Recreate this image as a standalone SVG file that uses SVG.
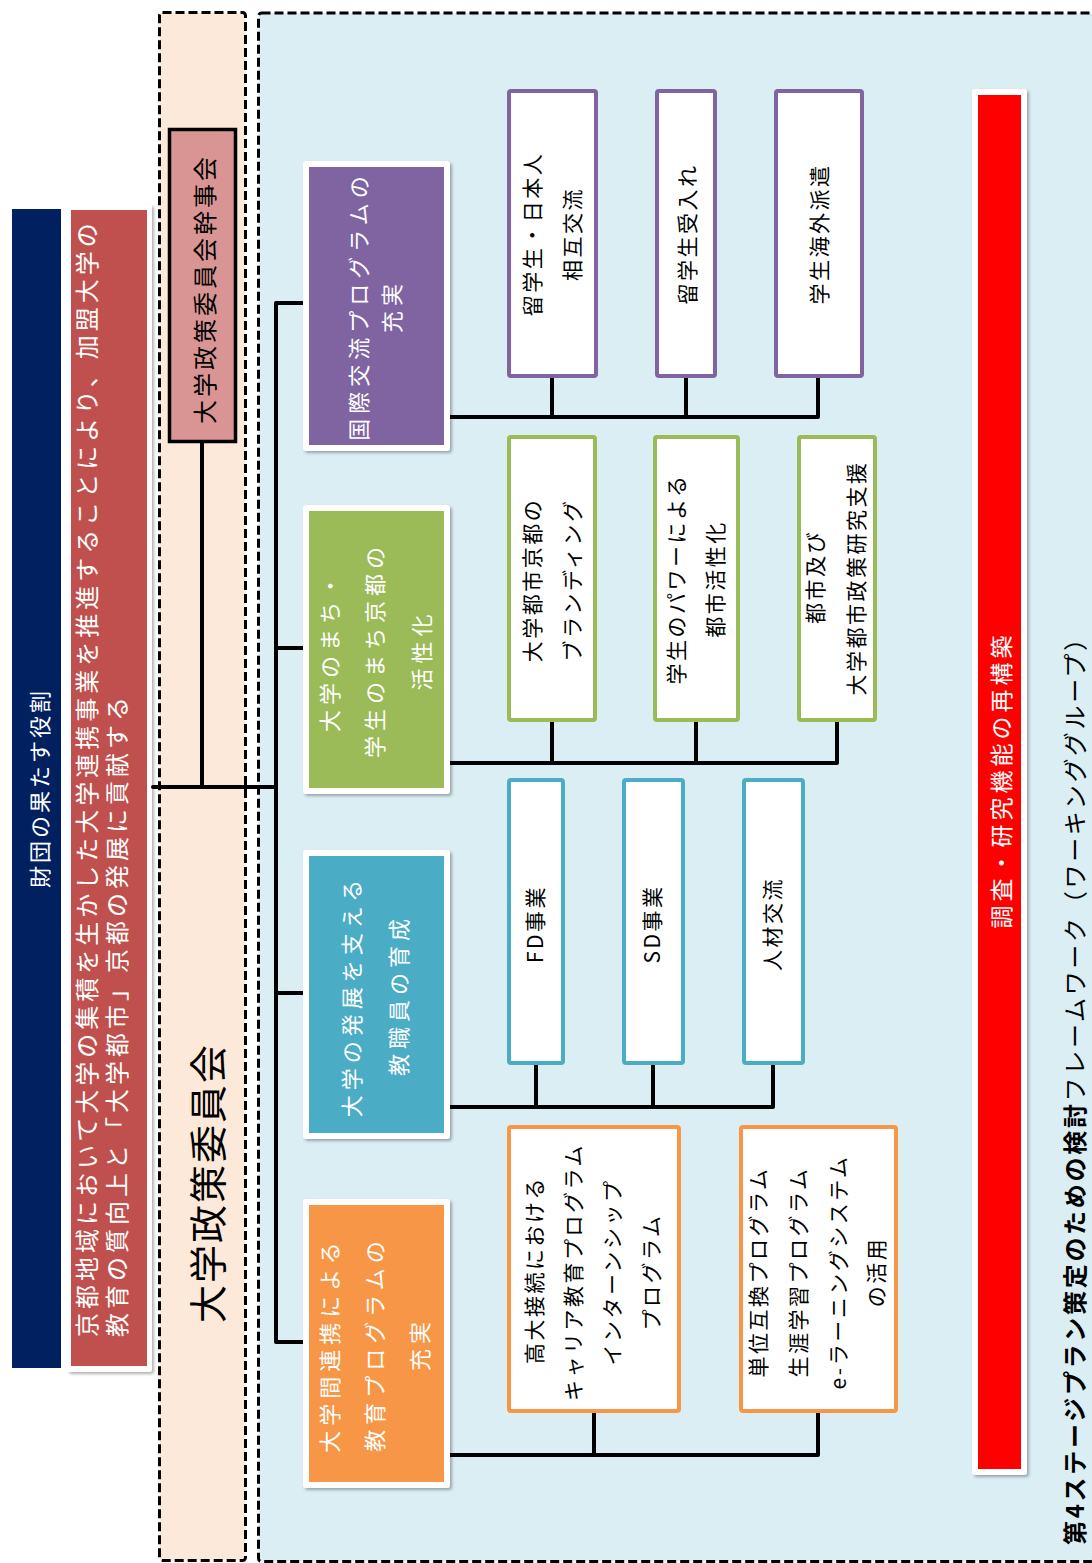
<svg xmlns="http://www.w3.org/2000/svg" width="1092" height="1563" viewBox="0 0 1092 1563">
<defs>
<filter id="sh" x="-10%" y="-10%" width="130%" height="130%">
<feDropShadow dx="2" dy="2" stdDeviation="1.5" flood-color="#000" flood-opacity="0.3"/>
</filter>
</defs>
<style>
text{font-family:"Noto Sans CJK JP","Noto Sans",sans-serif;dominant-baseline:central;text-anchor:middle}
.wt{fill:#fff}
.cat{font-size:22px;letter-spacing:5px;fill:#fff}
.sub{font-size:21px;letter-spacing:2.5px;fill:#000}
.panel{stroke:#000;stroke-width:3;stroke-dasharray:9 4}
.sb{fill:#fff;stroke-width:4}
.conn{fill:none;stroke:#000;stroke-width:4;stroke-linejoin:round}
.wb{fill:#fff;filter:url(#sh)}
</style>
<rect width="1092" height="1563" fill="#fff"/>

<g id="panel-committee">
<rect class="panel" x="159.5" y="12.5" width="86" height="1548" rx="3" fill="#FDE9D9"/>
<text transform="translate(205,1183) rotate(-90)" style="font-size:38px;letter-spacing:2px;fill:#000">大学政策委員会</text>
</g>
<g id="panel-wg">
<rect class="panel" x="258.5" y="13" width="835" height="1548.5" rx="3" fill="#DAEEF3"/>
</g>

<g id="role">
<rect x="12" y="209" width="49" height="1159" fill="#002060"/>
<text class="wt" transform="translate(38,788) rotate(-90)" style="font-size:22px;letter-spacing:3px">財団の果たす役割</text>
</g>

<g id="mission">
<rect class="wb" x="67" y="204" width="85" height="1168" rx="3"/>
<rect x="71" y="210" width="76" height="1156" fill="#C0504D"/>
<text class="wt" transform="translate(85,1337) rotate(-90)" style="font-size:24px;letter-spacing:4px;text-anchor:start">京都地域において大学の集積を生かした大学連携事業を推進することにより、加盟大学の</text>
<text class="wt" transform="translate(115,1337) rotate(-90)" style="font-size:24px;letter-spacing:4px;text-anchor:start">教育の質向上と「大学都市」京都の発展に貢献する</text>
</g>

<g id="kanji">
<rect x="169.5" y="129.5" width="66" height="312" fill="#D99594" stroke="#000" stroke-width="3.5"/>
<text transform="translate(203,289) rotate(-90)" style="font-size:24px;letter-spacing:3px;fill:#000">大学政策委員会幹事会</text>
</g>

<g id="connectors">
<path class="conn" d="M202,443 V787"/>
<path class="conn" d="M153,787 H276" stroke-linecap="round"/>
<path class="conn" d="M303,303 H276 V1342 H303"/>
<path class="conn" d="M276,648 H303 M276,993 H303"/>
<path class="conn" d="M450,417 H818 V378 M552,378 V417 M686,378 V417"/>
<path class="conn" d="M450,763 H837 V722 M552,722 V763 M696,722 V763"/>
<path class="conn" d="M450,1107 H773 V1065 M536,1065 V1107 M653,1065 V1107"/>
<path class="conn" d="M450,1455 H818 V1413 M594,1413 V1455"/>
</g>

<g id="cat-intl">
<rect class="wb" x="303" y="161" width="147" height="290" rx="3"/>
<rect x="309" y="167" width="135" height="278" fill="#8064A2"/>
<text class="cat" transform="translate(357,306) rotate(-90)">国際交流プログラムの</text>
<text class="cat" transform="translate(390,306) rotate(-90)">充実</text>
</g>
<g id="cat-town">
<rect class="wb" x="303" y="505" width="147" height="289" rx="3"/>
<rect x="309" y="511" width="135" height="277" fill="#9BBB59"/>
<text class="cat" transform="translate(328,651) rotate(-90)">大学のまち・</text>
<text class="cat" transform="translate(373,650) rotate(-90)">学生のまち京都の</text>
<text class="cat" transform="translate(420,650) rotate(-90)">活性化</text>
</g>
<g id="cat-staff">
<rect class="wb" x="303" y="850" width="147" height="289" rx="3"/>
<rect x="309" y="856" width="135" height="277" fill="#4BACC6"/>
<text class="cat" transform="translate(350,996) rotate(-90)">大学の発展を支える</text>
<text class="cat" transform="translate(397,995) rotate(-90)">教職員の育成</text>
</g>
<g id="cat-edu">
<rect class="wb" x="303" y="1199" width="147" height="289" rx="3"/>
<rect x="309" y="1205" width="135" height="277" fill="#F79646"/>
<text class="cat" transform="translate(328,1345) rotate(-90)">大学間連携による</text>
<text class="cat" transform="translate(373,1344) rotate(-90)">教育プログラムの</text>
<text class="cat" transform="translate(418,1344) rotate(-90)">充実</text>
</g>

<g id="p1">
<rect class="sb" x="509" y="91" width="87" height="285" rx="2" stroke="#8064A2"/>
<text class="sub" transform="translate(531,234) rotate(-90)">留学生・日本人</text>
<text class="sub" transform="translate(571,234) rotate(-90)">相互交流</text>
</g>
<g id="p2">
<rect class="sb" x="657" y="91" width="58" height="285" rx="2" stroke="#8064A2"/>
<text class="sub" transform="translate(686,234) rotate(-90)">留学生受入れ</text>
</g>
<g id="p3">
<rect class="sb" x="776" y="91" width="86" height="285" rx="2" stroke="#8064A2"/>
<text class="sub" transform="translate(818,234) rotate(-90)">学生海外派遣</text>
</g>

<g id="g1">
<rect class="sb" x="509" y="437" width="86" height="283" rx="2" stroke="#9BBB59"/>
<text class="sub" transform="translate(531,580) rotate(-90)">大学都市京都の</text>
<text class="sub" transform="translate(571,580) rotate(-90)">ブランディング</text>
</g>
<g id="g2">
<rect class="sb" x="655" y="437" width="83" height="283" rx="2" stroke="#9BBB59"/>
<text class="sub" transform="translate(675,579) rotate(-90)">学生のパワーによる</text>
<text class="sub" transform="translate(714,579) rotate(-90)">都市活性化</text>
</g>
<g id="g3">
<rect class="sb" x="799" y="437" width="76" height="283" rx="2" stroke="#9BBB59"/>
<text class="sub" transform="translate(814,577) rotate(-90)">都市及び</text>
<text class="sub" transform="translate(855,578) rotate(-90)">大学都市政策研究支援</text>
</g>

<g id="b1">
<rect class="sb" x="509" y="780" width="54" height="283" rx="2" stroke="#4BACC6"/>
<text class="sub" transform="translate(534,924) rotate(-90)">FD事業</text>
</g>
<g id="b2">
<rect class="sb" x="624" y="780" width="59" height="283" rx="2" stroke="#4BACC6"/>
<text class="sub" transform="translate(651,924) rotate(-90)">SD事業</text>
</g>
<g id="b3">
<rect class="sb" x="744" y="780" width="59" height="283" rx="2" stroke="#4BACC6"/>
<text class="sub" transform="translate(771,924) rotate(-90)">人材交流</text>
</g>

<g id="o1">
<rect class="sb" x="509" y="1127" width="170" height="284" rx="2" stroke="#F79646"/>
<text class="sub" transform="translate(533,1270) rotate(-90)">高大接続における</text>
<text class="sub" transform="translate(572,1272) rotate(-90)">キャリア教育プログラム</text>
<text class="sub" transform="translate(611,1272) rotate(-90)">インターンシップ</text>
<text class="sub" transform="translate(650,1272) rotate(-90)">プログラム</text>
</g>
<g id="o2">
<rect class="sb" x="741" y="1127" width="155" height="284" rx="2" stroke="#F79646"/>
<text class="sub" transform="translate(757,1272) rotate(-90)">単位互換プログラム</text>
<text class="sub" transform="translate(797,1272) rotate(-90)">生涯学習プログラム</text>
<text class="sub" transform="translate(837,1272) rotate(-90)">e-ラーニングシステム</text>
<text class="sub" transform="translate(875,1272) rotate(-90)">の活用</text>
</g>

<g id="research">
<rect class="wb" x="972" y="89" width="55" height="1386" rx="3"/>
<rect x="978" y="95" width="43" height="1374" fill="#FF0000"/>
<text class="wt" transform="translate(1000,780) rotate(-90)" style="font-size:23px;letter-spacing:4px">調査・研究機能の再構築</text>
</g>

<g id="title">
<text transform="translate(1073,1545) rotate(-90)" style="font-size:24px;letter-spacing:2.7px;text-anchor:start;fill:#000"><tspan font-weight="bold">第4ステージプラン策定のための検討</tspan>フレームワーク（ワーキンググループ）</text>
</g>
</svg>
